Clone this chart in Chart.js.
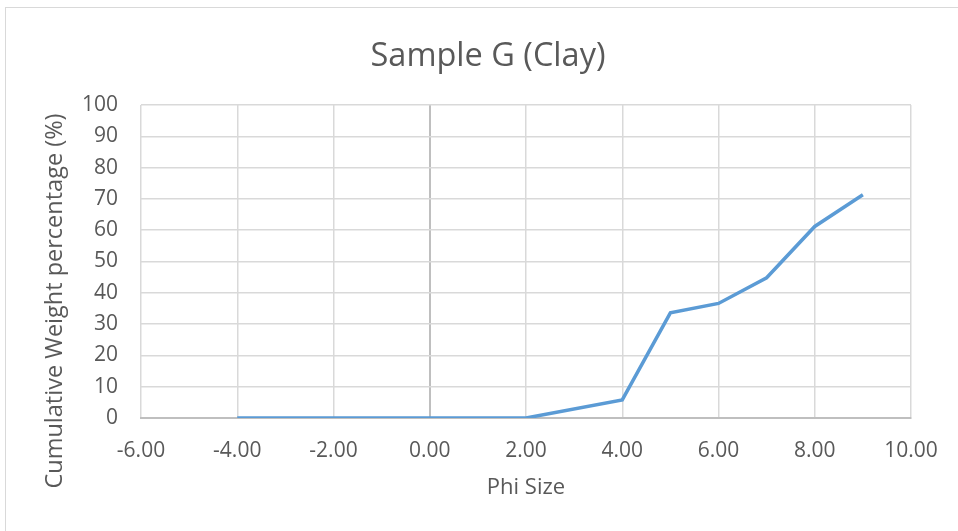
<!DOCTYPE html>
<html lang="en">
<head>
    <meta charset="UTF-8">
    <title>Sample G (Clay)</title>
    <style>
        body {
            margin: 0;
            padding: 0;
            background: #fff;
            overflow: hidden;
        }
        .frame {
            position: absolute;
            left: 5px;
            top: 7px;
            width: 1000px;
            height: 600px;
            border: 1px solid #d9d9d9;
        }
        .chart-box {
            position: absolute;
            left: 0;
            top: 0;
            width: 958px;
            height: 531px;
        }
    </style>
</head>
<body>
    <div class="frame"></div>
    <div class="chart-box">
        <canvas id="phiChart"></canvas>
    </div>

    <script src="https://cdn.jsdelivr.net/npm/chart.js"></script>
    <script>
        // data
        const phiSize = [-4, -3, -2, -1, 0, 1, 2, 4, 5, 6, 7, 8, 9];
        const cumWeight = [0, 0, 0, 0, 0, 0, 0, 5.8, 33.6, 36.6, 44.8, 61.2, 71.3];
        const xTicks = [-6, -4, -2, 0, 2, 4, 6, 8, 10];
        const yTicks = [0, 10, 20, 30, 40, 50, 60, 70, 80, 90, 100];

        const points = phiSize.map((x, i) => ({ x: x, y: cumWeight[i] }));
        const fontFam = "'Open Sans', sans-serif";
        const textCol = '#595959';
        const yTitle = 'Cumulative Weight percentage (%)';

        // Excel centres the chart title on the whole frame and the y title lower down
        const excelTitles = {
            id: 'excelTitles',
            afterLayout(chart) {
                chart.titleBlock.left = 0;
                chart.titleBlock.right = 976;
            },
            afterDraw(chart) {
                const c = chart.ctx;
                c.save();
                c.translate(55, 301);
                c.rotate(-Math.PI / 2);
                c.font = "23.5px " + fontFam;
                c.fillStyle = textCol;
                c.textAlign = 'center';
                c.textBaseline = 'middle';
                c.fillText(yTitle, 0, 0);
                c.restore();
            }
        };

        const ctx = document.getElementById('phiChart').getContext('2d');
        const phiChart = new Chart(ctx, {
            type: 'scatter',
            data: {
                datasets: [{
                    label: 'Sample G (Clay)',
                    data: points,
                    showLine: true,
                    borderColor: '#5b9bd5',
                    backgroundColor: '#5b9bd5',
                    borderWidth: 3.5,
                    pointRadius: 0,
                    tension: 0
                }]
            },
            options: {
                responsive: true,
                maintainAspectRatio: false,
                animation: false,
                layout: { padding: { left: 0, right: 47, top: 0, bottom: 0 } },
                plugins: {
                    legend: { display: false },
                    tooltip: { enabled: false },
                    title: {
                        display: true,
                        text: 'Sample G (Clay)',
                        color: textCol,
                        font: { family: fontFam, size: 32.5, weight: 'normal' },
                        padding: { top: 37, bottom: 29 }
                    }
                },
                scales: {
                    x: {
                        type: 'linear',
                        min: -6,
                        max: 10,
                        afterBuildTicks: s => { s.ticks = xTicks.map(v => ({ value: v })); },
                        afterFit: s => { s.height = 531 - 418; },
                        ticks: {
                            color: textCol,
                            font: { family: fontFam, size: 21 },
                            padding: 20,
                            maxRotation: 0,
                            callback: v => v.toFixed(2)
                        },
                        grid: {
                            drawTicks: false,
                            color: c => (c.tick && c.tick.value === 0) ? '#bfbfbf' : '#d9d9d9',
                            lineWidth: c => (c.tick && c.tick.value === 0) ? 2 : 1.5
                        },
                        border: { color: '#bfbfbf', width: 2 },
                        title: {
                            display: true,
                            text: 'Phi Size',
                            color: textCol,
                            font: { family: fontFam, size: 22 },
                            padding: { top: 0, bottom: 30 }
                        }
                    },
                    y: {
                        min: 0,
                        max: 100,
                        afterBuildTicks: s => { s.ticks = yTicks.map(v => ({ value: v })); },
                        afterFit: s => { s.width = 141; },
                        ticks: {
                            color: textCol,
                            font: { family: fontFam, size: 21 },
                            padding: 23
                        },
                        grid: {
                            drawTicks: false,
                            color: '#d9d9d9',
                            lineWidth: 1.5
                        },
                        border: { display: false }
                    }
                }
            },
            plugins: [excelTitles]
        });
    </script>
</body>
</html>
